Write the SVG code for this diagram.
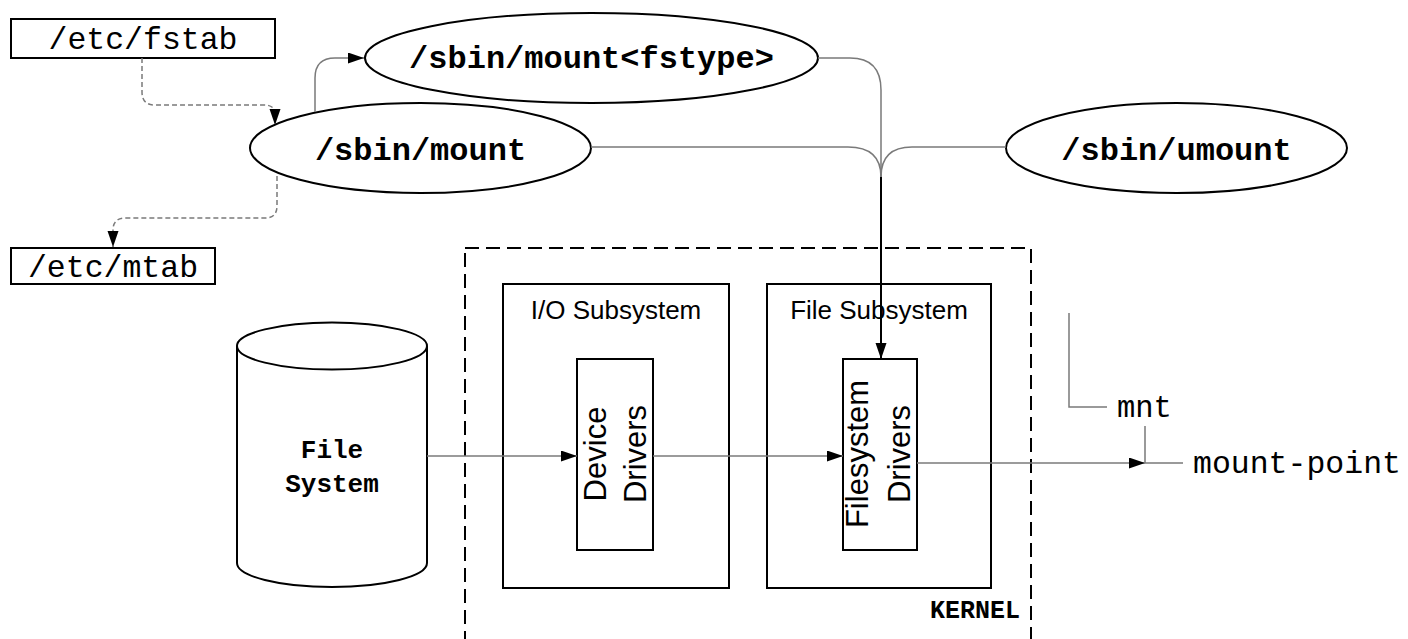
<svg xmlns="http://www.w3.org/2000/svg" width="1408" height="639" viewBox="0 0 1408 639">
<style>
.box{fill:#fff;stroke:#000;stroke-width:2}
.mono{font-family:"Liberation Mono","Courier New",monospace;fill:#000}
.sans{font-family:"Liberation Sans",Arial,sans-serif;fill:#000}
.b{font-weight:bold}
.ln{fill:none;stroke:#7a7a7a;stroke-width:1.5}
.dash{fill:none;stroke:#7a7a7a;stroke-width:1.5;stroke-dasharray:5,3}
.trunk{fill:none;stroke:#000;stroke-width:2}
</style>
<defs>
<marker id="ah" markerUnits="userSpaceOnUse" markerWidth="17" markerHeight="12" refX="16" refY="5.5" orient="auto">
<path d="M0,0 L16,5.5 L0,11 z" fill="#000"/>
</marker>
</defs>
<rect width="1408" height="639" fill="#fff"/>

<g id="kernel">
<rect x="465" y="248" width="566" height="420" fill="none" stroke="#000" stroke-width="2" stroke-dasharray="14,7"/>
<text class="mono b" x="1020" y="618" text-anchor="end" font-size="25">KERNEL</text>
</g>

<g id="fstab">
<rect class="box" x="11" y="19" width="264" height="39"/>
<text class="mono" x="143" y="49" text-anchor="middle" font-size="31.5">/etc/fstab</text>
</g>

<g id="mtab">
<rect class="box" x="11" y="248" width="204" height="36"/>
<text class="mono" x="113" y="277" text-anchor="middle" font-size="31.5">/etc/mtab</text>
</g>

<g id="mount-fstype">
<ellipse class="box" cx="591.5" cy="58" rx="226.5" ry="45"/>
<text class="mono b" x="591.5" y="68" text-anchor="middle" font-size="32">/sbin/mount&lt;fstype&gt;</text>
</g>

<g id="mount">
<ellipse class="box" cx="420.5" cy="148" rx="170.5" ry="45"/>
<text class="mono b" x="420.5" y="160" text-anchor="middle" font-size="32">/sbin/mount</text>
</g>

<g id="umount">
<ellipse class="box" cx="1176.5" cy="148" rx="170.5" ry="45"/>
<text class="mono b" x="1176.5" y="160" text-anchor="middle" font-size="32">/sbin/umount</text>
</g>

<g id="filesystem">
<path class="box" d="M237,346 V563 A95,24 0 0 0 427,563 V346"/>
<ellipse class="box" cx="332" cy="346" rx="95" ry="23.5"/>
<text class="mono b" x="332" y="458" text-anchor="middle" font-size="26">File</text>
<text class="mono b" x="332" y="492" text-anchor="middle" font-size="26">System</text>
</g>

<g id="io-subsystem">
<rect class="box" x="503" y="284" width="226" height="304"/>
<text class="sans" x="616" y="319" text-anchor="middle" font-size="26">I/O Subsystem</text>
</g>

<g id="file-subsystem">
<rect class="box" x="767" y="284" width="224" height="304"/>
<text class="sans" x="879" y="319" text-anchor="middle" font-size="26">File Subsystem</text>
</g>

<g id="device-drivers">
<rect class="box" x="577" y="359" width="76" height="191"/>
<text class="sans" transform="translate(606,454) rotate(-90)" text-anchor="middle" font-size="31">Device</text>
<text class="sans" transform="translate(646,454) rotate(-90)" text-anchor="middle" font-size="31">Drivers</text>
</g>

<g id="filesystem-drivers">
<rect class="box" x="843" y="359" width="74" height="191"/>
<text class="sans" transform="translate(868,454) rotate(-90)" text-anchor="middle" font-size="31">Filesystem</text>
<text class="sans" transform="translate(910,454) rotate(-90)" text-anchor="middle" font-size="31">Drivers</text>
</g>

<g id="mnt">
<text class="mono" x="1117" y="417" font-size="30.5">mnt</text>
</g>

<g id="mount-point">
<text class="mono" x="1193" y="473" font-size="31.5">mount-point</text>
</g>

<g id="connectors">
<path class="dash" d="M142,58 V92 Q142,105 155,105 H264 Q275,105 275,114 V125" marker-end="url(#ah)"/>
<path class="dash" d="M277,176 V206 Q277,218 265,218 H126 Q113,218 113,230 V247" marker-end="url(#ah)"/>
<path class="ln" d="M315,112 V78 Q315,58 335,58 H364" marker-end="url(#ah)"/>
<path class="ln" d="M818,58 H850 Q881,58 881,90 V177"/>
<path class="ln" d="M591,147 H848 Q881,147 881,177"/>
<path class="ln" d="M1006,147 H912 Q881,147 881,177"/>
<path class="trunk" d="M881,177 V359" marker-end="url(#ah)"/>
<path class="ln" d="M427,456 H577" marker-end="url(#ah)"/>
<path class="ln" d="M653,456 H843" marker-end="url(#ah)"/>
<path class="ln" d="M917,463 H1145" marker-end="url(#ah)"/>
<path class="ln" d="M1145,463 H1183 M1145,463 V426"/>
<path class="ln" d="M1069,313 V407 H1107"/>
</g>
</svg>
